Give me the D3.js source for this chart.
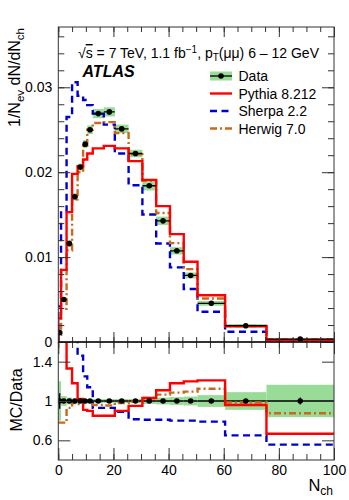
<!DOCTYPE html>
<html>
<head>
<script src="https://d3js.org/d3.v7.min.js"></script>
<style>
  body { margin: 0; background: #fff; }
  svg text { font-family: "Liberation Sans", Arial, Helvetica, sans-serif; fill: #000; }
</style>
</head>
<body>
<svg id="chart" width="349" height="500"></svg>
<script>
// bins in N_ch
const binEdges = [0, 1, 3, 5, 7, 9, 10.5, 12.5, 16.5, 20.5, 25.5, 30.5, 35.5, 40.5, 45.5, 50.5, 60.5, 75.5, 100];

// 1/Nev dN/dNch
const dataValues = [0.0011, 0.0050, 0.0116, 0.0171, 0.0206, 0.0233, 0.0250, 0.0269, 0.0271, 0.0251, 0.0222, 0.0184, 0.01427, 0.01074, 0.00784, 0.00455, 0.00192, 0.00035];
const dataSyst = [0.2, 0.05, 0.035, 0.025, 0.02, 0.02, 0.02, 0.02, 0.02, 0.02, 0.02, 0.03, 0.035, 0.04, 0.045, 0.06, 0.09, 0.165]; // relative, green band
const dataStat = [0.08, 0.015, 0.01, 0.005, 0.005, 0.005, 0.005, 0.005, 0.005, 0.005, 0.005, 0.005, 0.005, 0.005, 0.01, 0.01, 0.02, 0.035];
const pythiaValues = [0.0028, 0.0085, 0.0153, 0.0198, 0.0207, 0.0215, 0.0222, 0.0228, 0.0231, 0.0228, 0.0213, 0.0191, 0.0160, 0.0127, 0.00945, 0.0055, 0.00185, 0.00023];
const sherpaValues = [0.0042, 0.0154, 0.0265, 0.0306, 0.0290, 0.0285, 0.0279, 0.0269, 0.0256, 0.0222, 0.01847, 0.01502, 0.01161, 0.00879, 0.00624, 0.00357, 0.00121, 0.0002];
const herwigValues = [0.00086, 0.0039, 0.0108, 0.0168, 0.0200, 0.0231, 0.0250, 0.0258, 0.0259, 0.0246, 0.0221, 0.0190, 0.0152, 0.01165, 0.00858, 0.00512, 0.00189, 0.00031];

// MC/Data ratios
const pythiaRatio = [2.5, 1.7, 1.33, 1.18, 1.02, 0.91, 0.90, 0.85, 0.85, 0.90, 0.95, 1.03, 1.11, 1.18, 1.20, 1.21, 0.96, 0.667];
const sherpaRatio = [3.8, 3.1, 2.28, 1.79, 1.46, 1.25, 1.14, 0.93, 0.93, 0.89, 0.815, 0.81, 0.81, 0.80, 0.80, 0.79, 0.65, 0.556];
const herwigRatio = [0.78, 0.78, 0.93, 0.98, 0.97, 0.99, 1.0, 0.96, 0.955, 0.98, 0.995, 1.03, 1.065, 1.085, 1.095, 1.125, 0.985, 0.875];

const mainYTicks = [0, 0.01, 0.02, 0.03];
const ratioYTicks = [0.6, 1, 1.4];
const xTicks = [0, 20, 40, 60, 80, 100];

const svg = d3.select("#chart");
const padL = 58.3, padR = 334, padT = 27, padM = 342, padB = 460;

const x = d3.scaleLinear().domain([0, 100]).range([padL, padR]);
const yMain = d3.scaleLinear().domain([0, 0.0371]).range([padM, padT]);
const yRatio = d3.scaleLinear().domain([0.4, 1.6]).range([padB, padM]);

const green = "#98dc98", red = "#ff0000", blue = "#0000cc", orange = "#c8691c";

const defs = svg.append("defs");
defs.append("clipPath").attr("id", "clipMain").append("rect")
  .attr("x", padL).attr("y", padT).attr("width", padR - padL).attr("height", padM - padT);
defs.append("clipPath").attr("id", "clipRatio").append("rect")
  .attr("x", padL).attr("y", padM).attr("width", padR - padL).attr("height", padB - padM);

const bins = dataValues.map((v, i) => ({ i: i, lo: binEdges[i], hi: binEdges[i + 1], c: (binEdges[i] + binEdges[i + 1]) / 2, v: v }));

// step outline of a histogram
function steps(values, y, fromBase) {
  const pts = [];
  if (fromBase) pts.push([x(binEdges[0]), y.range()[0]]);
  values.forEach((v, i) => {
    pts.push([x(binEdges[i]), y(v)]);
    pts.push([x(binEdges[i + 1]), y(v)]);
  });
  return d3.line()(pts);
}

/* ---------- main panel ---------- */
const gMain = svg.append("g").attr("clip-path", "url(#clipMain)");

gMain.selectAll("rect.band").data(bins).join("rect")
  .attr("class", "band")
  .attr("x", d => x(d.lo)).attr("width", d => x(d.hi) - x(d.lo))
  .attr("y", d => yMain(d.v * (1 + dataSyst[d.i])))
  .attr("height", d => yMain(d.v * (1 - dataSyst[d.i])) - yMain(d.v * (1 + dataSyst[d.i])))
  .attr("fill", green);

const mcStyles = [
  { vals: sherpaValues, ratio: sherpaRatio, color: blue, dash: "7,4.5" },
  { vals: herwigValues, ratio: herwigRatio, color: orange, dash: "7,3,2,3" },
  { vals: pythiaValues, ratio: pythiaRatio, color: red, dash: null }
];

mcStyles.forEach(s => {
  gMain.append("path").attr("d", steps(s.vals, yMain, true))
    .attr("fill", "none").attr("stroke", s.color).attr("stroke-width", 2.4)
    .attr("stroke-dasharray", s.dash);
});

gMain.selectAll("line.xerr").data(bins).join("line")
  .attr("class", "xerr")
  .attr("x1", d => x(d.lo)).attr("x2", d => x(d.hi))
  .attr("y1", d => yMain(d.v)).attr("y2", d => yMain(d.v))
  .attr("stroke", "#000").attr("stroke-width", 1.3);
gMain.selectAll("line.yerr").data(bins).join("line")
  .attr("class", "yerr")
  .attr("x1", d => x(d.c)).attr("x2", d => x(d.c))
  .attr("y1", d => yMain(d.v * (1 - dataStat[d.i]))).attr("y2", d => yMain(d.v * (1 + dataStat[d.i])))
  .attr("stroke", "#000").attr("stroke-width", 1.3);
gMain.selectAll("circle").data(bins).join("circle")
  .attr("cx", d => x(d.c)).attr("cy", d => yMain(d.v)).attr("r", 2.8).attr("fill", "#000");

/* ---------- ratio panel ---------- */
const gRatio = svg.append("g").attr("clip-path", "url(#clipRatio)");

gRatio.selectAll("rect.band").data(bins).join("rect")
  .attr("class", "band")
  .attr("x", d => x(d.lo)).attr("width", d => x(d.hi) - x(d.lo))
  .attr("y", d => yRatio(1 + dataSyst[d.i]))
  .attr("height", d => yRatio(1 - dataSyst[d.i]) - yRatio(1 + dataSyst[d.i]))
  .attr("fill", green);

gRatio.selectAll("line.xerr").data(bins).join("line")
  .attr("class", "xerr")
  .attr("x1", d => x(d.lo)).attr("x2", d => x(d.hi))
  .attr("y1", yRatio(1)).attr("y2", yRatio(1))
  .attr("stroke", "#000").attr("stroke-width", 1.3);

mcStyles.forEach(s => {
  gRatio.append("path").attr("d", steps(s.ratio, yRatio, false))
    .attr("fill", "none").attr("stroke", s.color).attr("stroke-width", 2.4)
    .attr("stroke-dasharray", s.dash);
});

gRatio.selectAll("line.yerr").data(bins).join("line")
  .attr("class", "yerr")
  .attr("x1", d => x(d.c)).attr("x2", d => x(d.c))
  .attr("y1", d => yRatio(1 - dataStat[d.i])).attr("y2", d => yRatio(1 + dataStat[d.i]))
  .attr("stroke", "#000").attr("stroke-width", 1.3);
gRatio.selectAll("circle").data(bins).join("circle")
  .attr("cx", d => x(d.c)).attr("cy", yRatio(1)).attr("r", 2.8).attr("fill", "#000");

/* ---------- axes ---------- */
const axisColor = "#333";
function styleAxis(g) {
  g.select(".domain").remove();
  g.selectAll(".tick line").attr("stroke", axisColor);
  g.selectAll("text").attr("font-size", 14).attr("fill", "#000")
    .style("font-family", '"Liberation Sans", Arial, sans-serif');
}
const noLabel = () => "";
const minorX = d3.range(0, 101, 5);

// main y
svg.append("g").attr("transform", `translate(${padL},0)`)
  .call(d3.axisLeft(yMain).tickValues(d3.range(0, 0.0371, 0.002)).tickSize(-6).tickFormat(noLabel)).call(styleAxis);
svg.append("g").attr("transform", `translate(${padL},0)`)
  .call(d3.axisLeft(yMain).tickValues(mainYTicks).tickSize(-12).tickPadding(6)
    .tickFormat(d => d === 0 ? "0" : d3.format(".2f")(d))).call(styleAxis);
svg.append("g").attr("transform", `translate(${padR},0)`)
  .call(d3.axisRight(yMain).tickValues(d3.range(0, 0.0371, 0.002)).tickSize(-6).tickFormat(noLabel)).call(styleAxis);
svg.append("g").attr("transform", `translate(${padR},0)`)
  .call(d3.axisRight(yMain).tickValues(mainYTicks).tickSize(-12).tickFormat(noLabel)).call(styleAxis);

// main x (no labels)
[[padM, d3.axisBottom], [padT, d3.axisTop]].forEach(([yy, ax]) => {
  svg.append("g").attr("transform", `translate(0,${yy})`)
    .call(ax(x).tickValues(minorX).tickSize(-5).tickFormat(noLabel)).call(styleAxis);
  svg.append("g").attr("transform", `translate(0,${yy})`)
    .call(ax(x).tickValues(xTicks).tickSize(-10).tickFormat(noLabel)).call(styleAxis);
});

// ratio y
svg.append("g").attr("transform", `translate(${padL},0)`)
  .call(d3.axisLeft(yRatio).tickValues(ratioYTicks).tickSize(-12).tickPadding(6)
    .tickFormat(d => d3.format("")(d))).call(styleAxis);
svg.append("g").attr("transform", `translate(${padR},0)`)
  .call(d3.axisRight(yRatio).tickValues(ratioYTicks).tickSize(-12).tickFormat(noLabel)).call(styleAxis);

// ratio x
svg.append("g").attr("transform", `translate(0,${padM})`)
  .call(d3.axisBottom(x).tickValues(minorX).tickSize(6).tickFormat(noLabel)).call(styleAxis);
svg.append("g").attr("transform", `translate(0,${padM})`)
  .call(d3.axisBottom(x).tickValues(xTicks).tickSize(12).tickFormat(noLabel)).call(styleAxis);
svg.append("g").attr("transform", `translate(0,${padB})`)
  .call(d3.axisBottom(x).tickValues(minorX).tickSize(-6).tickFormat(noLabel)).call(styleAxis);
svg.append("g").attr("transform", `translate(0,${padB})`)
  .call(d3.axisBottom(x).tickValues(xTicks).tickSize(-12).tickPadding(5)).call(styleAxis);

// frames
[[padT, padM], [padM, padB]].forEach(([a, b]) => {
  svg.append("rect").attr("x", padL).attr("y", a).attr("width", padR - padL).attr("height", b - a)
    .attr("fill", "none").attr("stroke", axisColor).attr("stroke-width", 1);
});
svg.append("line").attr("x1", padL).attr("x2", padR).attr("y1", padM).attr("y2", padM)
  .attr("stroke", "#000").attr("stroke-width", 1.2);

/* ---------- titles ---------- */
const yt = svg.append("text").attr("transform", `translate(20,${padT + 1}) rotate(-90)`)
  .attr("text-anchor", "end").attr("font-size", 16);
yt.append("tspan").text("1/N");
yt.append("tspan").attr("font-size", 11.5).attr("dy", 4).text("ev");
yt.append("tspan").attr("dy", -4).text(" dN/dN");
yt.append("tspan").attr("font-size", 11.5).attr("dy", 4).text("ch");

svg.append("text").attr("transform", `translate(22,400) rotate(-90)`)
  .attr("text-anchor", "middle").attr("font-size", 16).text("MC/Data");

const xt = svg.append("text").attr("x", padR - 1).attr("y", 491).attr("text-anchor", "end").attr("font-size", 16.5);
xt.append("tspan").text("N");
xt.append("tspan").attr("font-size", 12).attr("dy", 3.5).text("ch");

// header line
const hd = svg.append("text").attr("x", 78).attr("y", 58).attr("font-size", 14);
hd.append("tspan").text("√");
hd.append("tspan").style("text-decoration", "overline").text("s");
hd.append("tspan").text(" = 7 TeV, 1.1 fb");
hd.append("tspan").attr("font-size", 10).attr("dy", -5).text("−1");
hd.append("tspan").attr("dy", 5).text(", p");
hd.append("tspan").attr("font-size", 10).attr("dy", 3).text("T");
hd.append("tspan").attr("dy", -3).text("(μμ) 6 – 12 GeV");

svg.append("text").attr("x", 82.5).attr("y", 76.5).attr("font-size", 16)
  .attr("font-weight", "bold").attr("font-style", "italic").text("ATLAS");

/* ---------- legend ---------- */
const legendNames = ["Data", "Pythia 8.212", "Sherpa 2.2", "Herwig 7.0"];
const legendColors = [null, red, blue, orange];
const legendDash = [null, null, "7,4.5", "7,3,2,3"];
const lg = svg.append("g");
legendNames.forEach((name, i) => {
  const cy = 76 + i * 17.5;
  if (i === 0) {
    lg.append("rect").attr("x", 210).attr("y", cy - 4.5).attr("width", 22).attr("height", 9).attr("fill", green);
    lg.append("line").attr("x1", 210).attr("x2", 232).attr("y1", cy).attr("y2", cy).attr("stroke", "#000").attr("stroke-width", 1.3);
    lg.append("circle").attr("cx", 221).attr("cy", cy).attr("r", 2.8).attr("fill", "#000");
  } else {
    lg.append("line").attr("x1", 210).attr("x2", 232).attr("y1", cy).attr("y2", cy)
      .attr("stroke", legendColors[i]).attr("stroke-width", 2.4).attr("stroke-dasharray", legendDash[i]);
  }
  lg.append("text").attr("x", 238.5).attr("y", cy + 5).attr("font-size", 14).text(name);
});
</script>
</body>
</html>
